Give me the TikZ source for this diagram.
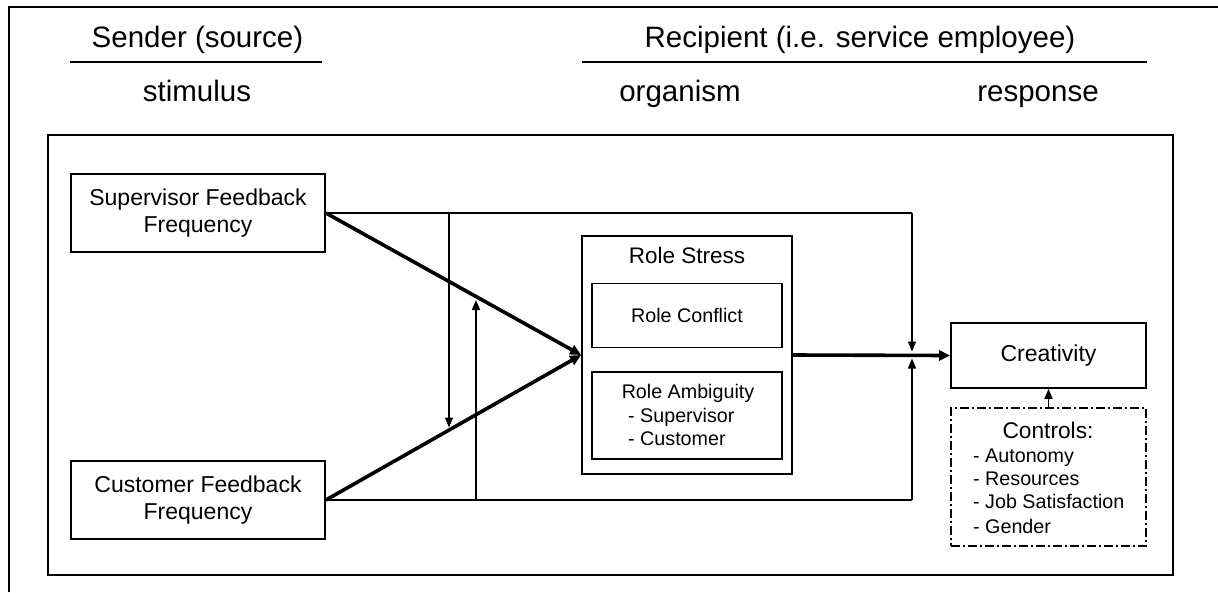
\documentclass[tikz,border=0pt]{standalone}
\usepackage{fontspec}
\setmainfont{Liberation Sans}
\usetikzlibrary{arrows.meta}

\begin{document}
\begin{tikzpicture}[x=1pt,y=-1pt,
  box/.style={draw, line width=1.8pt, rectangle, inner sep=0pt, align=center},
  txt/.style={inner sep=0pt},
  hdr/.style={txt, anchor=base, font=\fontsize{29.5}{34}\selectfont},
  bigtxt/.style={font=\fontsize{23}{26.5}\selectfont},
  smalltxt/.style={font=\fontsize{19.7}{23.5}\selectfont},
  link/.style={line width=1.6pt},
  linkarrow/.style={link, -{Triangle[length=10pt,width=8pt]}},
  mainarrow/.style={line width=3.6pt, -{Triangle[length=11pt,width=10pt]}},
  ctrlbox/.style={draw, line width=1.6pt, rectangle, inner sep=0pt,
    dash pattern=on 9pt off 3pt on 2pt off 3pt}
]
\useasboundingbox (0,0) rectangle (1218,592);
\fill[white] (0,0) rectangle (1218,592);

% page frame (left and top edges)
\draw[line width=2.6pt] (9,592) -- (9,7) -- (1218,7);

% column headings
\node[hdr] (sender) at (197.5,47) {Sender (source)};
\node[hdr] (recip) at (860,47) {Recipient (i.e. service employee)};
\coordinate (u1a) at (70,62);
\coordinate (u1b) at (322,62);
\coordinate (u2a) at (582,62);
\coordinate (u2b) at (1147,62);
\draw[link] (u1a) -- (u1b);
\draw[link] (u2a) -- (u2b);
\node[hdr] (stim) at (197,101) {stimulus};
\node[hdr] (orga) at (680,101) {organism};
\node[hdr] (resp) at (1038,101) {response};

% model frame
\draw[line width=1.8pt] (48,135) rectangle (1173,575);

% stimulus boxes
\node[box, bigtxt, minimum width=254pt, minimum height=78pt] (sup) at (198,213)
  {Supervisor Feedback\\Frequency};
\node[box, bigtxt, minimum width=254pt, minimum height=78pt] (cus) at (198,500)
  {Customer Feedback\\Frequency};

% role stress
\node[box, minimum width=210pt, minimum height=238pt] (rs) at (687,355) {};
\node[txt, anchor=base, font=\fontsize{22.5}{26}\selectfont] (rstitle) at (687,263) {Role Stress};
\node[box, smalltxt, minimum width=190pt, minimum height=64pt] (rc) at (687,315.5) {Role Conflict};
\node[box, minimum width=190pt, minimum height=87pt] (ra) at (687,415.5) {};
\node[txt, smalltxt, anchor=base] (ra0) at (688,398) {Role Ambiguity};
\node[txt, smalltxt, anchor=base west] (ra1) at (628,422) {- Supervisor};
\node[txt, smalltxt, anchor=base west] (ra2) at (628,445) {- Customer};

% response
\node[box, bigtxt, minimum width=195pt, minimum height=65pt] (cre) at (1048.5,355.5) {Creativity};
\node[ctrlbox, minimum width=195pt, minimum height=138pt] (ctl) at (1048.5,477) {};
\node[txt, anchor=base, font=\fontsize{22.7}{26}\selectfont] (ctl0) at (1048,438) {Controls:};
\node[txt, smalltxt, anchor=base west] (ctl1) at (973,462) {- Autonomy};
\node[txt, smalltxt, anchor=base west] (ctl2) at (973,485) {- Resources};
\node[txt, smalltxt, anchor=base west] (ctl3) at (973,508) {- Job Satisfaction};
\node[txt, smalltxt, anchor=base west] (ctl4) at (973,533) {- Gender};

% main effects
\draw[mainarrow] (sup.east) -- (rs.west);
\draw[mainarrow] (cus.east) -- (rs.west);
\draw[mainarrow] (rs.east) -- (cre.west);
\draw[linkarrow] (ctl.north) -- (cre.south);

% moderating paths
\coordinate (tr) at (912,213);
\coordinate (trend) at (912,351.5);
\coordinate (br) at (912,500);
\coordinate (brend) at (912,358.5);
\draw[link] (sup.east) -- (tr);
\draw[linkarrow] (tr) -- (trend);
\draw[link] (cus.east) -- (br);
\draw[linkarrow] (br) -- (brend);

\coordinate (dtop) at (449,213);
\coordinate (dtip) at (449,427.5);
\coordinate (ubot) at (476,500);
\coordinate (utip) at (476,300);
\draw[linkarrow] (dtop) -- (dtip);
\draw[linkarrow] (ubot) -- (utip);
\end{tikzpicture}
\end{document}
